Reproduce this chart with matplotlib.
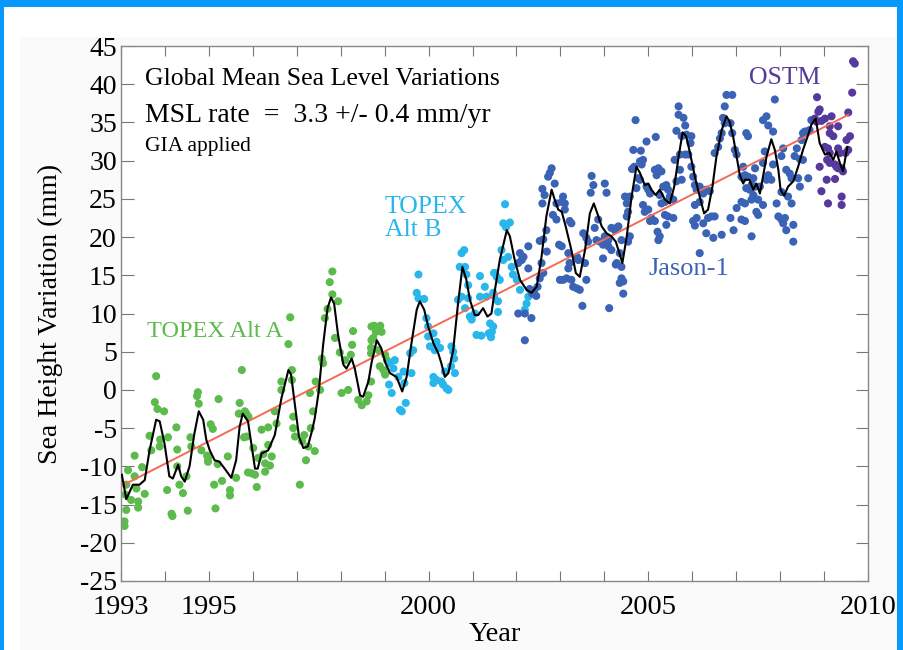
import matplotlib
matplotlib.use("Agg")
import matplotlib.pyplot as plt
from matplotlib.patches import Rectangle
from matplotlib.ticker import FixedLocator, FixedFormatter

# --> scatter data (year, mm)
topex_a = [
    (1993.08, -17.2), (1993.08, -17.8), (1993.10, -13.7), (1993.12, -12.4), (1993.12, -15.7),
    (1993.16, -10.5), (1993.23, -14.4), (1993.31, -8.6), (1993.31, -11.3), (1993.35, -12.9),
    (1993.39, -14.6), (1993.39, -15.4), (1993.48, -10.1), (1993.54, -13.6), (1993.65, -6.0),
    (1993.69, -7.9), (1993.77, -1.6), (1993.80, 1.8), (1993.83, -2.5), (1993.88, -7.4),
    (1993.89, -6.5), (1993.98, -2.8), (1994.05, -13.1), (1994.07, -6.2), (1994.15, -16.2),
    (1994.17, -16.5), (1994.26, -4.9), (1994.28, -7.8), (1994.28, -10.0), (1994.33, -12.4),
    (1994.41, -13.5), (1994.49, -11.3), (1994.52, -15.8), (1994.58, -6.2), (1994.60, -7.4),
    (1994.73, -0.8), (1994.75, -0.3), (1994.77, -1.8), (1994.83, -7.9), (1994.96, -8.6),
    (1994.98, -8.9), (1994.98, -9.4), (1995.04, -4.5), (1995.09, -5.1), (1995.12, -12.4),
    (1995.15, -15.5), (1995.20, -9.7), (1995.22, -1.2), (1995.30, -11.9), (1995.43, -8.7),
    (1995.48, -13.1), (1995.48, -13.8), (1995.62, -11.5), (1995.68, -3.1), (1995.70, -1.7),
    (1995.75, 2.6), (1995.80, -6.2), (1995.85, -3.1), (1995.89, -10.8), (1995.82, -2.8),
    (1995.86, -6.1), (1995.90, -3.5), (1995.97, -10.9), (1996.01, -7.6), (1996.05, -11.1),
    (1996.09, -12.7), (1996.12, -8.9), (1996.20, -5.2), (1996.24, -8.4), (1996.28, -9.6),
    (1996.28, -10.7), (1996.35, -4.9), (1996.35, -7.2), (1996.39, -9.9), (1996.43, -8.7),
    (1996.50, -2.8), (1996.54, -4.4), (1996.65, 1.1), (1996.65, 0.0), (1996.81, 6.0),
    (1996.85, 9.5), (1996.89, 2.6), (1996.89, 1.3), (1996.92, -3.5), (1996.92, -5.0),
    (1996.96, -6.1), (1997.07, -12.4), (1997.12, -6.7), (1997.17, -5.9), (1997.21, -9.2),
    (1997.26, -7.4), (1997.30, -0.4), (1997.32, -5.0), (1997.37, -2.8), (1997.41, -8.0),
    (1997.43, 1.1), (1997.53, 0.0), (1997.57, 4.1), (1997.60, 3.5), (1997.64, 9.4),
    (1997.70, 10.6), (1997.75, 14.1), (1997.81, 15.5), (1997.81, 12.5), (1997.87, 6.8),
    (1997.94, 11.6), (1997.98, 4.9), (1998.02, -0.4), (1998.10, 3.9), (1998.17, 0.0),
    (1998.23, 4.6), (1998.26, 5.9), (1998.28, 7.7), (1998.40, -1.3), (1998.48, -2.0),
    (1998.59, -1.5), (1998.63, -0.7), (1998.69, 1.1), (1998.69, 5.5), (1998.69, 4.8),
    (1998.70, 8.3), (1998.70, 6.5), (1998.74, 6.8), (1998.76, 8.4), (1998.80, 7.6),
    (1998.86, 5.2), (1998.89, 3.1), (1998.90, 8.4), (1998.93, 7.6), (1998.97, 2.6),
    (1999.01, 4.6), (1999.01, 2.0), (1999.05, 3.9),
]

topex_b = [
    (1999.10, 0.7), (1999.12, 3.5), (1999.16, -0.4), (1999.20, 2.8), (1999.23, 3.9),
    (1999.31, 1.7), (1999.35, -2.6), (1999.39, -2.8), (1999.43, 2.4), (1999.45, 0.9),
    (1999.48, -1.7), (1999.58, 4.8), (1999.61, 2.2), (1999.65, 5.2), (1999.73, 12.7),
    (1999.77, 15.1), (1999.77, 12.0), (1999.90, 11.9), (1999.95, 9.4), (1999.99, 8.3),
    (1999.99, 7.0), (2000.03, 5.7), (2000.11, 7.4), (2000.11, 1.7), (2000.11, 0.9),
    (2000.14, 5.2), (2000.18, 6.3), (2000.18, 1.3), (2000.26, 5.5), (2000.29, 1.1),
    (2000.33, 0.7), (2000.37, 2.4), (2000.41, 0.2), (2000.45, 0.0), (2000.51, 3.1),
    (2000.52, 5.7), (2000.56, 5.0), (2000.58, 4.1), (2000.60, 2.2), (2000.67, 11.8),
    (2000.71, 16.1), (2000.75, 17.9), (2000.75, 12.2), (2000.81, 18.3), (2000.83, 16.1),
    (2000.83, 10.7), (2000.86, 15.1), (2000.90, 13.7), (2000.90, 12.0), (2000.94, 9.6),
    (2000.98, 9.2), (2001.05, 10.0), (2001.09, 7.2), (2001.17, 14.9), (2001.17, 12.2),
    (2001.20, 7.1), (2001.28, 13.5), (2001.32, 12.2), (2001.37, 7.4), (2001.40, 8.7),
    (2001.42, 6.9), (2001.44, 7.6), (2001.47, 8.3), (2001.47, 12.7), (2001.49, 15.3),
    (2001.49, 12.3), (2001.51, 15.3), (2001.55, 14.8), (2001.58, 11.6), (2001.58, 10.2),
    (2001.62, 14.4), (2001.66, 18.3), (2001.70, 21.8), (2001.70, 17.0), (2001.74, 24.3),
    (2001.76, 21.3), (2001.81, 17.4), (2001.85, 21.9), (2001.89, 16.1), (2001.92, 15.1),
    (2002.01, 14.4), (2002.08, 13.1), (2002.19, 10.5), (2002.23, 11.3), (2002.27, 12.2),
]

jason1 = [
    (2002.04, 16.6), (2002.04, 10.0), (2002.08, 17.9), (2002.12, 17.0), (2002.16, 17.4),
    (2002.19, 10.0), (2002.19, 6.5), (2002.27, 18.8), (2002.27, 15.9), (2002.30, 13.2),
    (2002.34, 9.4), (2002.36, 12.6), (2002.40, 13.0), (2002.45, 12.3), (2002.48, 13.5),
    (2002.53, 19.5), (2002.53, 14.6), (2002.57, 16.6), (2002.59, 26.3), (2002.59, 24.4),
    (2002.61, 19.7), (2002.61, 15.3), (2002.64, 25.5), (2002.68, 20.9), (2002.69, 18.1),
    (2002.72, 27.9), (2002.76, 28.4), (2002.80, 29.0), (2002.83, 22.9), (2002.87, 27.0),
    (2002.91, 24.4), (2002.91, 22.3), (2002.97, 19.0), (2002.99, 14.4), (2003.03, 24.6),
    (2003.03, 18.8), (2003.06, 25.3), (2003.06, 14.4), (2003.10, 24.4), (2003.10, 23.6),
    (2003.14, 14.6), (2003.18, 17.9), (2003.18, 15.9), (2003.21, 22.1), (2003.21, 16.6),
    (2003.25, 21.8), (2003.25, 14.4), (2003.29, 13.5), (2003.37, 13.3), (2003.38, 17.4),
    (2003.41, 17.0), (2003.44, 13.1), (2003.50, 11.0), (2003.52, 20.5), (2003.56, 16.6),
    (2003.59, 19.9), (2003.59, 14.4), (2003.63, 19.4), (2003.69, 25.8), (2003.71, 28.0),
    (2003.75, 26.8), (2003.78, 21.2), (2003.82, 19.6), (2003.86, 22.3), (2003.90, 19.4),
    (2003.97, 19.0), (2003.97, 17.2), (2004.01, 27.0), (2004.01, 20.1), (2004.05, 25.8),
    (2004.09, 19.6), (2004.09, 18.8), (2004.11, 10.7), (2004.16, 21.2), (2004.16, 18.3),
    (2004.24, 20.9), (2004.26, 16.4), (2004.28, 21.2), (2004.28, 16.6), (2004.32, 21.4),
    (2004.35, 17.9), (2004.35, 14.0), (2004.39, 19.6), (2004.39, 16.1), (2004.39, 14.6),
    (2004.43, 14.2), (2004.43, 12.6), (2004.47, 25.3), (2004.51, 24.4), (2004.51, 22.7),
    (2004.54, 23.3), (2004.54, 19.4), (2004.58, 25.3), (2004.58, 20.1), (2004.63, 28.9),
    (2004.66, 31.4), (2004.68, 29.2), (2004.71, 35.3), (2004.73, 26.4), (2004.77, 27.7),
    (2004.81, 29.9), (2004.81, 27.5), (2004.83, 31.3), (2004.85, 29.5), (2004.88, 30.1),
    (2004.88, 24.2), (2004.92, 23.3), (2004.96, 32.5), (2004.96, 26.6), (2005.00, 26.2),
    (2005.00, 23.6), (2005.04, 25.7), (2005.04, 22.1), (2005.07, 22.5), (2005.15, 28.8),
    (2005.15, 22.1), (2005.17, 33.1), (2005.19, 28.1), (2005.21, 20.7), (2005.23, 29.0),
    (2005.23, 19.6), (2005.26, 25.5), (2005.26, 20.1), (2005.30, 28.6), (2005.30, 24.4),
    (2005.34, 26.6), (2005.38, 24.6), (2005.38, 22.9), (2005.41, 26.8), (2005.41, 21.6),
    (2005.45, 26.2), (2005.45, 22.7), (2005.49, 25.3), (2005.57, 24.9), (2005.57, 22.5),
    (2005.60, 30.1), (2005.64, 33.9), (2005.64, 27.3), (2005.69, 37.1), (2005.69, 36.0),
    (2005.72, 30.8), (2005.72, 28.8), (2005.76, 33.2), (2005.76, 27.5), (2005.80, 35.6),
    (2005.84, 34.6), (2005.84, 30.8), (2005.87, 33.4), (2005.91, 30.8), (2005.96, 32.3),
    (2005.98, 33.2), (2005.98, 29.2), (2006.02, 27.9), (2006.02, 22.1), (2006.06, 26.8),
    (2006.06, 24.2), (2006.06, 21.5), (2006.10, 26.2), (2006.10, 22.5), (2006.17, 26.6),
    (2006.17, 24.6), (2006.17, 17.9), (2006.25, 25.7), (2006.25, 21.8), (2006.32, 26.2),
    (2006.32, 20.5), (2006.36, 22.5), (2006.40, 26.0), (2006.44, 22.7), (2006.48, 19.9),
    (2006.51, 31.0), (2006.51, 22.7), (2006.59, 31.8), (2006.63, 32.9), (2006.67, 33.6),
    (2006.67, 20.3), (2006.70, 35.6), (2006.74, 34.9), (2006.74, 37.1), (2006.78, 38.6),
    (2006.87, 34.9), (2006.87, 22.5), (2006.91, 38.6), (2006.91, 33.6), (2006.94, 20.9),
    (2006.97, 31.4), (2007.01, 30.8), (2007.01, 23.8), (2007.12, 27.9), (2007.12, 24.6),
    (2007.12, 22.3), (2007.16, 29.2), (2007.16, 27.7), (2007.20, 28.1), (2007.20, 24.4),
    (2007.20, 22.1), (2007.23, 33.6), (2007.23, 26.4), (2007.27, 33.2), (2007.27, 27.9),
    (2007.31, 26.2), (2007.35, 26.8), (2007.35, 24.9), (2007.35, 20.1), (2007.39, 27.7),
    (2007.39, 25.5), (2007.43, 29.0), (2007.43, 26.6), (2007.46, 23.3), (2007.50, 24.9),
    (2007.50, 22.9), (2007.54, 26.6), (2007.61, 35.3), (2007.61, 29.7), (2007.61, 24.2),
    (2007.65, 31.2), (2007.69, 35.8), (2007.69, 27.5), (2007.73, 34.6), (2007.73, 28.1),
    (2007.80, 27.5), (2007.84, 33.8), (2007.84, 29.5), (2007.88, 38.0), (2007.92, 24.4),
    (2007.96, 22.7), (2008.03, 30.6), (2008.03, 25.9), (2008.03, 22.3), (2008.07, 31.6),
    (2008.07, 21.8), (2008.11, 22.5), (2008.14, 28.8), (2008.14, 20.9), (2008.18, 25.3),
    (2008.22, 28.3), (2008.26, 27.7), (2008.26, 24.4), (2008.30, 21.6), (2008.30, 19.4),
    (2008.33, 30.6), (2008.38, 31.6), (2008.41, 27.7), (2008.45, 26.6), (2008.45, 30.2),
    (2008.49, 32.7), (2008.52, 33.6), (2008.52, 30.1), (2008.56, 33.8), (2008.60, 33.8),
    (2008.64, 27.7), (2008.67, 34.0), (2008.71, 35.3),
]

ostm = [
    (2008.79, 35.5), (2008.83, 35.1), (2008.84, 38.3), (2008.87, 36.4), (2008.90, 36.7),
    (2008.90, 29.2), (2008.94, 35.2), (2008.94, 26.0), (2009.02, 35.5), (2009.02, 31.8),
    (2009.06, 27.5), (2009.07, 30.1), (2009.09, 31.6), (2009.09, 24.4), (2009.13, 34.5),
    (2009.13, 33.6), (2009.13, 31.0), (2009.13, 29.7), (2009.17, 35.8), (2009.21, 33.2),
    (2009.25, 29.5), (2009.25, 27.6), (2009.28, 29.2), (2009.32, 34.5), (2009.32, 31.6),
    (2009.32, 29.0), (2009.36, 31.0), (2009.40, 29.0), (2009.40, 25.3), (2009.40, 24.2),
    (2009.43, 28.6), (2009.49, 31.0), (2009.51, 32.7), (2009.55, 31.4), (2009.55, 36.3),
    (2009.59, 33.2), (2009.64, 38.9), (2009.66, 43.0), (2009.70, 42.7),
]

# --> 60-day smoothed curve (black)
smooth = [
    (1993.02, -11.1), (1993.12, -14.3), (1993.27, -12.4), (1993.42, -12.4), (1993.54, -11.8),
    (1993.65, -7.9), (1993.80, -3.9), (1993.88, -4.1), (1993.99, -7.0), (1994.10, -11.3),
    (1994.18, -11.6), (1994.30, -9.8), (1994.37, -11.3), (1994.45, -12.0), (1994.56, -10.0),
    (1994.67, -5.7), (1994.77, -2.8), (1994.87, -3.9), (1994.94, -6.5), (1995.02, -7.9),
    (1995.13, -9.2), (1995.24, -9.4), (1995.36, -10.3), (1995.51, -11.5), (1995.62, -9.2),
    (1995.70, -4.8), (1995.77, -3.1), (1995.89, -4.1), (1995.97, -7.2), (1996.05, -10.3),
    (1996.11, -10.3), (1996.20, -8.3), (1996.35, -7.9), (1996.50, -5.9), (1996.65, -1.1),
    (1996.81, 2.6), (1996.87, 2.0), (1996.96, -2.0), (1997.05, -6.1), (1997.15, -7.6),
    (1997.25, -7.4), (1997.34, -5.5), (1997.41, -3.7), (1997.50, -0.2), (1997.60, 5.9),
    (1997.70, 10.7), (1997.78, 12.1), (1997.85, 11.3), (1997.94, 7.2), (1998.06, 3.3),
    (1998.13, 2.8), (1998.25, 4.1), (1998.32, 2.8), (1998.44, -0.7), (1998.51, -0.9),
    (1998.63, 1.1), (1998.70, 3.5), (1998.82, 6.5), (1998.92, 5.5), (1999.02, 3.5),
    (1999.12, 2.2), (1999.27, 1.7), (1999.40, -0.2), (1999.50, 1.7), (1999.61, 6.1),
    (1999.73, 10.5), (1999.80, 11.6), (1999.90, 10.5), (1999.99, 8.3), (2000.11, 6.1),
    (2000.22, 4.8), (2000.29, 3.5), (2000.37, 1.7), (2000.45, 2.2), (2000.56, 5.2),
    (2000.67, 11.3), (2000.77, 16.1), (2000.86, 14.4), (2000.94, 11.8), (2001.05, 9.8),
    (2001.13, 9.8), (2001.24, 10.7), (2001.34, 9.6), (2001.43, 10.0), (2001.51, 13.1),
    (2001.62, 17.0), (2001.78, 20.9), (2001.85, 20.1), (2001.96, 17.0), (2002.08, 14.4),
    (2002.23, 13.1), (2002.34, 12.7), (2002.46, 13.5), (2002.57, 17.4), (2002.68, 22.7),
    (2002.80, 26.2), (2002.87, 24.9), (2002.95, 23.6), (2003.03, 23.3), (2003.12, 21.4),
    (2003.25, 18.3), (2003.35, 15.3), (2003.44, 14.8), (2003.56, 18.3), (2003.67, 23.1),
    (2003.76, 24.4), (2003.84, 23.1), (2003.94, 21.4), (2004.05, 20.5), (2004.16, 20.1),
    (2004.26, 19.4), (2004.32, 18.3), (2004.41, 16.6), (2004.51, 20.1), (2004.62, 25.3),
    (2004.73, 29.2), (2004.81, 28.4), (2004.92, 26.8), (2005.00, 27.0), (2005.07, 26.2),
    (2005.17, 25.5), (2005.26, 26.2), (2005.38, 24.9), (2005.49, 24.4), (2005.59, 26.6),
    (2005.69, 30.5), (2005.78, 33.7), (2005.86, 33.2), (2005.95, 31.0), (2006.06, 27.9),
    (2006.17, 25.3), (2006.27, 23.1), (2006.36, 23.6), (2006.46, 26.6), (2006.55, 30.5),
    (2006.67, 34.0), (2006.78, 35.8), (2006.85, 35.1), (2006.93, 33.2), (2007.01, 30.5),
    (2007.08, 28.2), (2007.16, 27.0), (2007.20, 27.5), (2007.30, 27.5), (2007.39, 26.2),
    (2007.46, 27.0), (2007.54, 25.7), (2007.61, 27.9), (2007.69, 30.5), (2007.80, 32.8),
    (2007.88, 31.4), (2007.96, 28.8), (2008.01, 26.2), (2008.09, 25.4), (2008.18, 26.6),
    (2008.30, 27.3), (2008.41, 29.2), (2008.52, 31.4), (2008.64, 33.4), (2008.71, 34.7),
    (2008.81, 35.5), (2008.90, 32.3), (2009.02, 30.8), (2009.12, 31.0), (2009.21, 30.1),
    (2009.28, 31.2), (2009.36, 29.7), (2009.43, 28.6), (2009.49, 30.5), (2009.53, 31.8),
]

# --> linear trend end points
trend_years = [1993.0, 2009.55]
trend_mm = [-12.6, 36.0]

year_ticks = list(range(1993, 2011))
year_labels = ['1993', '', '1995', '', '', '', '', '2000', '', '', '', '',
               '2005', '', '', '', '', '2010']
mm_ticks = list(range(-25, 50, 5))

COLORS = {
    'topex_a': '#5cbb4c',
    'topex_b': '#29b6ea',
    'jason1': '#3b63b5',
    'ostm': '#56399c',
    'trend': '#f36b55',
    'frame': '#0798fb',
}


def add_frame(fig):
    """Blue slide border and faint grey panel behind the plot."""
    W, H = 904.0, 650.0
    fig.patches.append(Rectangle((20 / W, 0), 877 / W, 613 / H, transform=fig.transFigure,
                                 facecolor='#fafafa', edgecolor='none', zorder=-2))
    fig.patches.append(Rectangle((0, 1 - 7 / H), 1, 7 / H, transform=fig.transFigure,
                                 facecolor=COLORS['frame'], edgecolor='none', zorder=-1))
    fig.patches.append(Rectangle((0, 0), 4 / W, 1, transform=fig.transFigure,
                                 facecolor=COLORS['frame'], edgecolor='none', zorder=-1))
    fig.patches.append(Rectangle((897 / W, 0), 7 / W, 1, transform=fig.transFigure,
                                 facecolor=COLORS['frame'], edgecolor='none', zorder=-1))


def scatter(ax, pts, color):
    x, y = zip(*pts)
    ax.scatter(x, y, s=34, color=color, edgecolors='none', zorder=2)


def main():
    plt.rcParams['font.family'] = ['Liberation Serif', 'DejaVu Serif']
    plt.rcParams['axes.unicode_minus'] = False
    fig = plt.figure(figsize=(9.04, 6.5), dpi=100)
    fig.patch.set_facecolor('white')
    add_frame(fig)

    ax = fig.add_axes([121 / 904, 1 - 581 / 650, 747 / 904, 535 / 650])
    ax.set_facecolor('white')

    scatter(ax, topex_a, COLORS['topex_a'])
    scatter(ax, topex_b, COLORS['topex_b'])
    scatter(ax, jason1, COLORS['jason1'])
    scatter(ax, ostm, COLORS['ostm'])

    ax.plot(trend_years, trend_mm, color=COLORS['trend'], lw=1.4, zorder=3)
    sx, sy = zip(*smooth)
    ax.plot(sx, sy, color='black', lw=1.5, zorder=4, solid_joinstyle='round')

    ax.set_xlim(1993, 2010)
    ax.set_ylim(-25, 45)

    ax.xaxis.set_major_locator(FixedLocator(year_ticks))
    ax.xaxis.set_major_formatter(FixedFormatter(year_labels))
    ax.yaxis.set_major_locator(FixedLocator(mm_ticks))
    ax.tick_params(axis='x', direction='in', length=7, width=0.8, color='#777777',
                   top=True, labelsize=20.5, pad=10)
    ax.tick_params(axis='y', direction='in', length=9, width=0.8, color='#777777',
                   right=True, labelsize=20, pad=3)
    for s in ax.spines.values():
        s.set_color('#888888')
        s.set_linewidth(1.0)

    ax.set_ylabel('Sea Height Variation (mm)', fontsize=20)
    ax.yaxis.set_label_coords(-0.078, 0.5)
    ax.set_xlabel('Year', fontsize=20.5, va='top')
    ax.xaxis.set_label_coords(0.5, -0.076)

    # --> annotations
    ax.text(1993.55, 39.9, 'Global Mean Sea Level Variations', fontsize=18.5)
    ax.text(1993.55, 35.1, 'MSL rate  =  3.3 +/- 0.4 mm/yr', fontsize=20)
    ax.text(1993.55, 31.2, 'GIA applied', fontsize=15.5)
    ax.text(1993.59, 6.9, 'TOPEX Alt A', fontsize=17.5, color=COLORS['topex_a'])
    ax.text(1999.0, 23.1, 'TOPEX', fontsize=18.5, color=COLORS['topex_b'])
    ax.text(1999.0, 20.1, 'Alt B', fontsize=18.5, color=COLORS['topex_b'])
    ax.text(2005.0, 15.1, 'Jason-1', fontsize=19, color=COLORS['jason1'])
    ax.text(2007.30, 40.0, 'OSTM', fontsize=18.5, color=COLORS['ostm'])

    fig.savefig('out.png', dpi=100)


if __name__ == "__main__":
    main()
